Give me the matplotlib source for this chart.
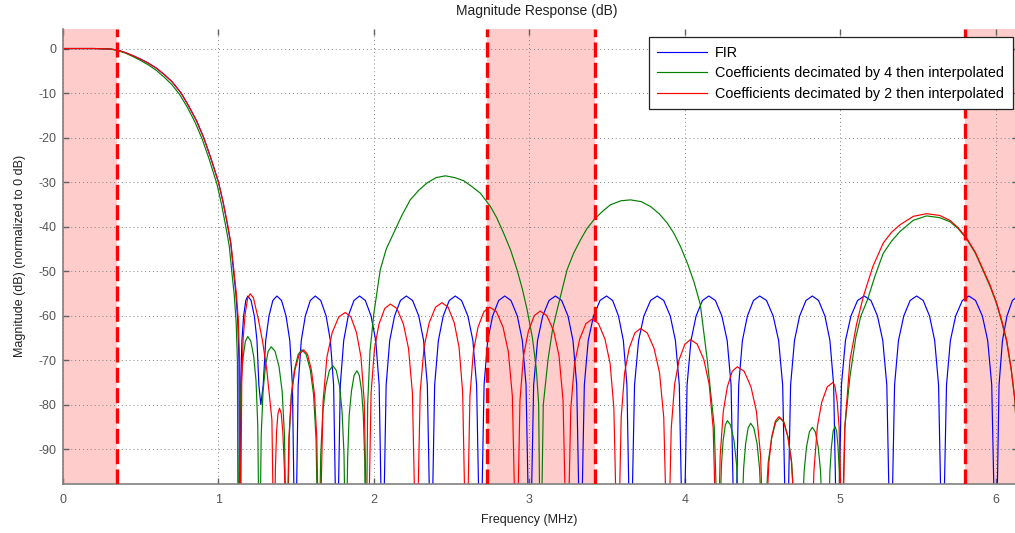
import matplotlib
matplotlib.use("Agg")
import matplotlib.pyplot as plt

plt.rcParams['font.family'] = ['Liberation Sans', 'DejaVu Sans']
plt.rcParams['axes.unicode_minus'] = False

# ---------------------------------------------------------------------------
# Magnitude responses (frequency in MHz, magnitude in dB, normalised to 0 dB)
# ---------------------------------------------------------------------------
fir_freq = [
    0, 0.2, 0.3, 0.347, 0.40, 0.45, 0.50, 0.55, 0.60, 0.65, 0.70, 0.76, 0.81, 0.86,
    0.905, 0.95, 1.0, 1.03, 1.06, 1.08, 1.097, 1.112, 1.124, 1.132, 1.135,
    1.143, 1.151, 1.162, 1.176, 1.189, 1.210, 1.231, 1.248, 1.260, 1.273,
    1.288, 1.304, 1.325, 1.350, 1.376, 1.406, 1.435, 1.459, 1.476, 1.494,
    1.513, 1.533, 1.559, 1.591, 1.623, 1.658, 1.693, 1.720, 1.741, 1.762,
    1.784, 1.806, 1.835, 1.872, 1.908, 1.945, 1.982, 2.012, 2.034, 2.056,
    2.079, 2.102, 2.133, 2.171, 2.209, 2.249, 2.289, 2.320, 2.344, 2.368,
    2.391, 2.415, 2.446, 2.485, 2.524, 2.564, 2.605, 2.637, 2.661, 2.685,
    2.709, 2.732, 2.764, 2.803, 2.842, 2.882, 2.923, 2.955, 2.979, 3.003,
    3.028, 3.053, 3.086, 3.127, 3.168, 3.208, 3.249, 3.281, 3.305, 3.329,
    3.354, 3.379, 3.413, 3.455, 3.497, 3.536, 3.574, 3.605, 3.628, 3.651,
    3.677, 3.703, 3.737, 3.780, 3.823, 3.865, 3.907, 3.940, 3.965, 3.990,
    4.015, 4.040, 4.073, 4.114, 4.155, 4.197, 4.239, 4.273, 4.298, 4.323,
    4.347, 4.371, 4.403, 4.442, 4.482, 4.526, 4.569, 4.604, 4.630, 4.656,
    4.681, 4.706, 4.739, 4.780, 4.821, 4.861, 4.902, 4.934, 4.958, 4.982,
    5.008, 5.034, 5.069, 5.112, 5.155, 5.198, 5.240, 5.274, 5.300, 5.325,
    5.350, 5.375, 5.409, 5.450, 5.492, 5.534, 5.575, 5.608, 5.633, 5.658,
    5.684, 5.709, 5.743, 5.786, 5.828, 5.871, 5.915, 5.949, 5.975, 6.001,
    6.022, 6.044, 6.073, 6.108, 6.144,
]
fir_db = [
    0, 0, -0.1, -0.3, -0.9, -1.6, -2.4, -3.3, -4.4, -5.8, -7.4, -10, -13, -16.3,
    -20, -24.5, -30, -34.5, -40, -44, -50, -55, -61, -70, -120,
    -75.6, -65.6, -60.1, -56.6, -55.6, -56.6, -60.1, -65.6, -75.6, -80,
    -75.6, -65.6, -60.1, -56.6, -55.6, -56.6, -60.1, -65.6, -75.6, -120,
    -75.6, -65.6, -60.1, -56.6, -55.6, -56.6, -60.1, -65.6, -75.6, -120,
    -75.6, -65.6, -60.1, -56.6, -55.6, -56.6, -60.1, -65.6, -75.6, -120,
    -75.6, -65.6, -60.1, -56.6, -55.6, -56.6, -60.1, -65.6, -75.6, -120,
    -75.6, -65.6, -60.1, -56.6, -55.6, -56.6, -60.1, -65.6, -75.6, -120,
    -75.6, -65.6, -60.1, -56.6, -55.6, -56.6, -60.1, -65.6, -75.6, -120,
    -75.6, -65.6, -60.1, -56.6, -55.6, -56.6, -60.1, -65.6, -75.6, -120,
    -75.6, -65.6, -60.1, -56.6, -55.6, -56.6, -60.1, -65.6, -75.6, -120,
    -75.6, -65.6, -60.1, -56.6, -55.6, -56.6, -60.1, -65.6, -75.6, -120,
    -75.6, -65.6, -60.1, -56.6, -55.6, -56.6, -60.1, -65.6, -75.6, -120,
    -75.6, -65.6, -60.1, -56.6, -55.6, -56.6, -60.1, -65.6, -75.6, -120,
    -75.6, -65.6, -60.1, -56.6, -55.6, -56.6, -60.1, -65.6, -75.6, -120,
    -75.6, -65.6, -60.1, -56.6, -55.6, -56.6, -60.1, -65.6, -75.6, -120,
    -75.6, -65.6, -60.1, -56.6, -55.6, -56.6, -60.1, -65.6, -75.6, -120,
    -75.6, -65.6, -60.1, -56.6, -55.6, -56.6, -60.1, -65.6, -75.6, -120,
    -75.6, -65.6, -60.1, -56.6, -55.6,
]

dec4_freq = [
    0, 0.2, 0.3, 0.347, 0.40, 0.45, 0.50, 0.55, 0.60, 0.65, 0.70, 0.75, 0.80, 0.85,
    0.895, 0.94, 0.99, 1.02, 1.05, 1.07, 1.087, 1.102, 1.114, 1.122, 1.127,
    1.137, 1.146, 1.159, 1.174, 1.189, 1.208, 1.227, 1.242, 1.253, 1.264,
    1.275, 1.287, 1.302, 1.320, 1.339, 1.364, 1.390, 1.410, 1.425, 1.44,
    1.455, 1.469, 1.489, 1.513, 1.537, 1.564, 1.591, 1.612, 1.628, 1.644,
    1.658, 1.672, 1.691, 1.714, 1.737, 1.758, 1.779, 1.795, 1.808, 1.82,
    1.831, 1.841, 1.856, 1.873, 1.891, 1.906, 1.921, 1.932, 1.941, 1.95,
    1.96, 1.975, 2.0, 2.041, 2.08, 2.127, 2.18, 2.234, 2.29, 2.342, 2.40, 2.46,
    2.52, 2.578, 2.63, 2.685, 2.75, 2.79, 2.835, 2.88, 2.921, 2.955, 2.986,
    3.02, 3.045, 3.06, 3.072,
    3.09, 3.12, 3.15, 3.179, 3.243, 3.285, 3.329, 3.37, 3.415, 3.47, 3.522,
    3.59, 3.651, 3.72, 3.78, 3.835, 3.887, 3.93, 3.973, 4.02, 4.06, 4.1,
    4.145, 4.19, 4.22,
    4.228, 4.236, 4.247, 4.261, 4.274, 4.295, 4.317, 4.334, 4.346, 4.359,
    4.369, 4.379, 4.392, 4.408, 4.424, 4.444, 4.465, 4.481, 4.493, 4.505,
    4.521, 4.537, 4.559, 4.585, 4.612, 4.639, 4.666, 4.688, 4.704, 4.72,
    4.745,
    4.756, 4.768, 4.783, 4.802, 4.821, 4.840, 4.859, 4.874, 4.885, 4.896,
    4.92,
    4.927, 4.934, 4.944, 4.955, 4.967, 4.977, 4.986, 4.994, 4.999, 5.005,
    5.03, 5.063, 5.1, 5.132, 5.175, 5.225, 5.277, 5.33, 5.385, 5.47, 5.556,
    5.64, 5.706, 5.76, 5.814, 5.87, 5.92, 5.965, 6.007, 6.04, 6.071, 6.10,
    6.125, 6.14, 6.144,
]
dec4_db = [
    0, 0, -0.1, -0.4, -1.0, -1.8, -2.7, -3.7, -4.9, -6.4, -8.1, -10.3, -13.2, -16.6,
    -20.3, -24.8, -30.4, -35, -40.5, -44.5, -50.5, -55.5, -61.5, -70, -120,
    -84.7, -74.7, -69.2, -65.7, -64.7, -65.7, -69.2, -74.7, -84.7, -120,
    -87, -77, -71.5, -68, -67, -68, -71.5, -77, -87, -120,
    -87.7, -77.7, -72.2, -68.7, -67.7, -68.7, -72.2, -77.7, -87.7, -120,
    -91.3, -81.3, -75.8, -72.3, -71.3, -72.3, -75.8, -81.3, -91.3, -120,
    -92.4, -82.4, -76.9, -73.4, -72.4, -73.4, -76.9, -82.4, -92.4, -120,
    -80, -68, -59.5, -49.7, -45, -41.5, -37.5, -34, -31.8, -30.2, -29.0, -28.6,
    -29.0, -29.7, -31, -32.5, -35.5, -38, -41.5, -45.3, -49.7, -54, -58.7,
    -65, -72, -79.7, -120,
    -80, -70, -63, -58.7, -49.7, -46, -43, -40.5, -38.5, -36.6, -35.1,
    -34.2, -34, -34.4, -35.5, -37.1, -39.2, -41.5, -44.5, -48.5, -52.5, -57.5,
    -70, -85, -120,
    -103.6, -93.6, -88.1, -84.6, -83.6, -84.6, -88.1, -93.6, -103.6, -120,
    -104.2, -94.2, -88.7, -85.2, -84.2, -85.2, -88.7, -94.2, -104.2, -120,
    -103, -93, -87.5, -84, -83, -84, -87.5, -93, -103, -120,
    -120,
    -105.1, -95.1, -89.6, -86.1, -85.1, -86.1, -89.6, -95.1, -105.1, -120,
    -120,
    -104.9, -94.9, -89.4, -85.9, -84.9, -85.9, -89.4, -94.9, -104.9, -120,
    -85, -73.7, -65, -60.2, -56.5, -51, -46, -43.3, -41.1, -38.6, -37.6,
    -38, -38.9, -40.5, -42.8, -46, -49.9, -53.5, -57.4, -61.5, -65.8, -72,
    -79.5, -92, -120,
]

dec2_freq = [
    0, 0.2, 0.3, 0.347, 0.40, 0.45, 0.50, 0.55, 0.60, 0.65, 0.70, 0.76, 0.81, 0.86,
    0.905, 0.95, 1.0, 1.03, 1.06, 1.08, 1.099, 1.115, 1.128, 1.136, 1.14,
    1.150, 1.159, 1.172, 1.188, 1.204, 1.225, 1.258, 1.285, 1.311, 1.344, 1.359,
    1.366, 1.374, 1.383, 1.393, 1.404, 1.414, 1.425, 1.436,
    1.453, 1.470, 1.492, 1.520, 1.548, 1.573, 1.598, 1.618, 1.633, 1.648,
    1.673, 1.698, 1.732, 1.774, 1.816, 1.852, 1.888, 1.917, 1.938, 1.96,
    1.982, 2.004, 2.033, 2.070, 2.106, 2.148, 2.190, 2.223, 2.248, 2.273,
    2.298, 2.323, 2.356, 2.397, 2.438, 2.477, 2.517, 2.548, 2.571, 2.595,
    2.618, 2.640, 2.670, 2.708, 2.745, 2.788, 2.831, 2.865, 2.891, 2.917,
    2.940, 2.963, 2.994, 3.032, 3.07, 3.113, 3.157, 3.191, 3.217, 3.243,
    3.267, 3.291, 3.324, 3.364, 3.404, 3.445, 3.487, 3.520, 3.544, 3.569,
    3.591, 3.613, 3.642, 3.679, 3.715, 3.759, 3.803, 3.838, 3.865, 3.891,
    3.913, 3.935, 3.964, 4.001, 4.037, 4.080, 4.123, 4.157, 4.183, 4.209,
    4.228, 4.248, 4.274, 4.306, 4.338, 4.382, 4.426, 4.461, 4.488, 4.514,
    4.528, 4.542, 4.560, 4.583, 4.606, 4.635, 4.663, 4.686, 4.703, 4.72,
    4.81,
    4.831, 4.853, 4.881, 4.917, 4.954, 4.967, 4.981, 4.993, 5.001, 5.01,
    5.03, 5.063, 5.105, 5.149, 5.21, 5.277, 5.33, 5.385, 5.47, 5.556, 5.64,
    5.706, 5.76, 5.814, 5.87, 5.92, 5.965, 6.007, 6.04, 6.071, 6.10, 6.125,
    6.14, 6.144,
]
dec2_db = [
    0, 0, -0.1, -0.3, -0.9, -1.6, -2.4, -3.3, -4.4, -5.8, -7.4, -10, -13, -16.3,
    -20, -24.5, -30, -34.5, -39.7, -43.7, -49.7, -55, -61, -70, -120,
    -75.1, -65.1, -59.6, -56.1, -55.1, -56, -61, -66, -72.2, -83.4, -120,
    -95, -86, -82, -80.8, -82, -86, -95, -120,
    -87.7, -77.7, -72.2, -68.7, -67.7, -68.7, -72.2, -77.7, -87.7, -120,
    -79.3, -69.3, -63.8, -60.3, -59.3, -60.3, -63.8, -69.3, -79.3, -120,
    -77.4, -67.4, -61.9, -58.4, -57.4, -58.4, -61.9, -67.4, -77.4, -120,
    -77.1, -67.1, -61.6, -58.1, -57.1, -58.1, -61.6, -67.1, -77.1, -120,
    -78.1, -68.1, -62.6, -59.1, -58.1, -59.1, -62.6, -68.1, -78.1, -120,
    -79, -69, -63.5, -60, -59, -60, -63.5, -69, -79, -120,
    -80.8, -70.8, -65.3, -61.8, -60.8, -61.8, -65.3, -70.8, -80.8, -120,
    -82.9, -72.9, -67.4, -63.9, -62.9, -63.9, -67.4, -72.9, -82.9, -120,
    -85.4, -75.4, -69.9, -66.4, -65.4, -66.4, -69.9, -75.4, -85.4, -120,
    -91.5, -81.5, -76, -72.5, -71.5, -72.5, -76, -81.5, -91.5, -120,
    -102.7, -92.7, -87.2, -83.7, -82.7, -83.7, -87.2, -92.7, -102.7, -120,
    -120,
    -95, -85, -79.5, -76, -75, -76, -79.5, -85, -95, -120,
    -85, -70, -62, -55.7, -49, -43.7, -41.3, -39.6, -37.7, -37.1, -37.5,
    -38.6, -40.3, -42.6, -45.8, -49.7, -53.2, -57.2, -61.2, -65.5, -72, -79,
    -92, -120,
]

series_labels = [
    "FIR",
    "Coefficients decimated by 4 then interpolated",
    "Coefficients decimated by 2 then interpolated",
]
series_colors = ["#0000ff", "#008000", "#ff0000"]

# Shaded bands (MHz) with dashed edge markers
band_edges = [(0.0, 0.35), (2.73, 3.425), (5.805, 6.144)]
marker_freqs = [0.35, 2.73, 3.425, 5.805]

x_ticks = [0, 1, 2, 3, 4, 5, 6]
y_ticks = [0, -10, -20, -30, -40, -50, -60, -70, -80, -90]

# ---------------------------------------------------------------------------
W, H = 1015, 533
fig = plt.figure(figsize=(W / 100, H / 100), dpi=100)
ax_left, ax_right, ax_top, ax_bottom = 63, 1018, 28.5, 484.3
ax = fig.add_axes([ax_left / W, 1 - ax_bottom / H,
                   (ax_right - ax_left) / W, (ax_bottom - ax_top) / H])

for lo, hi in band_edges:
    ax.axvspan(lo, hi, color="#ffcccc", lw=0, zorder=0)

ax.set_axisbelow(True)
ax.grid(True, linestyle=(0, (1, 3)), color="#808080", lw=0.7)

curves = [(fir_freq, fir_db), (dec4_freq, dec4_db), (dec2_freq, dec2_db)]
for (fx, fy), lab, col in zip(curves, series_labels, series_colors):
    ax.plot(fx, fy, color=col, lw=0.85, label=lab, zorder=2)

for xf in marker_freqs:
    ax.axvline(xf, color="#ff0000", lw=2.4, dashes=(4.5, 1.6), zorder=3)

ax.set_xlim(0, 6.144)
ax.set_ylim(-97.9, 4.5)
ax.set_xticks(x_ticks)
ax.set_yticks(y_ticks)

for side in ("top", "right"):
    ax.spines[side].set_visible(False)
for side in ("left", "bottom"):
    ax.spines[side].set_color("#808080")
    ax.spines[side].set_linewidth(1.2)

ax.tick_params(axis="both", direction="in", length=4, width=1, color="#606060",
               labelcolor="#555555", labelsize=9, top=True, right=True)
ax.tick_params(axis="x", pad=7)
ax.tick_params(axis="y", pad=5)

fig.text(537 / W, 1 - 11 / H, "Magnitude Response (dB)", ha="center", va="center",
         fontsize=10, color="#222222")
fig.text(529 / W, 1 - 520 / H, "Frequency (MHz)", ha="center", va="center",
         fontsize=9, color="#222222")
fig.text(20 / W, 1 - 256 / H, "Magnitude (dB) (normalized to 0 dB)", ha="center",
         va="center", rotation=90, fontsize=9, color="#222222")

leg = ax.legend(loc="upper right", bbox_to_anchor=(1012.7 / W, 1 - 37 / H),
                bbox_transform=fig.transFigure, fancybox=False, framealpha=1,
                edgecolor="#222222", fontsize=10.4, handlelength=3.45,
                handletextpad=0.55, labelspacing=0.45, borderpad=0.6,
                borderaxespad=0)
leg.get_frame().set_linewidth(0.9)

fig.savefig("out.png", dpi=100)
